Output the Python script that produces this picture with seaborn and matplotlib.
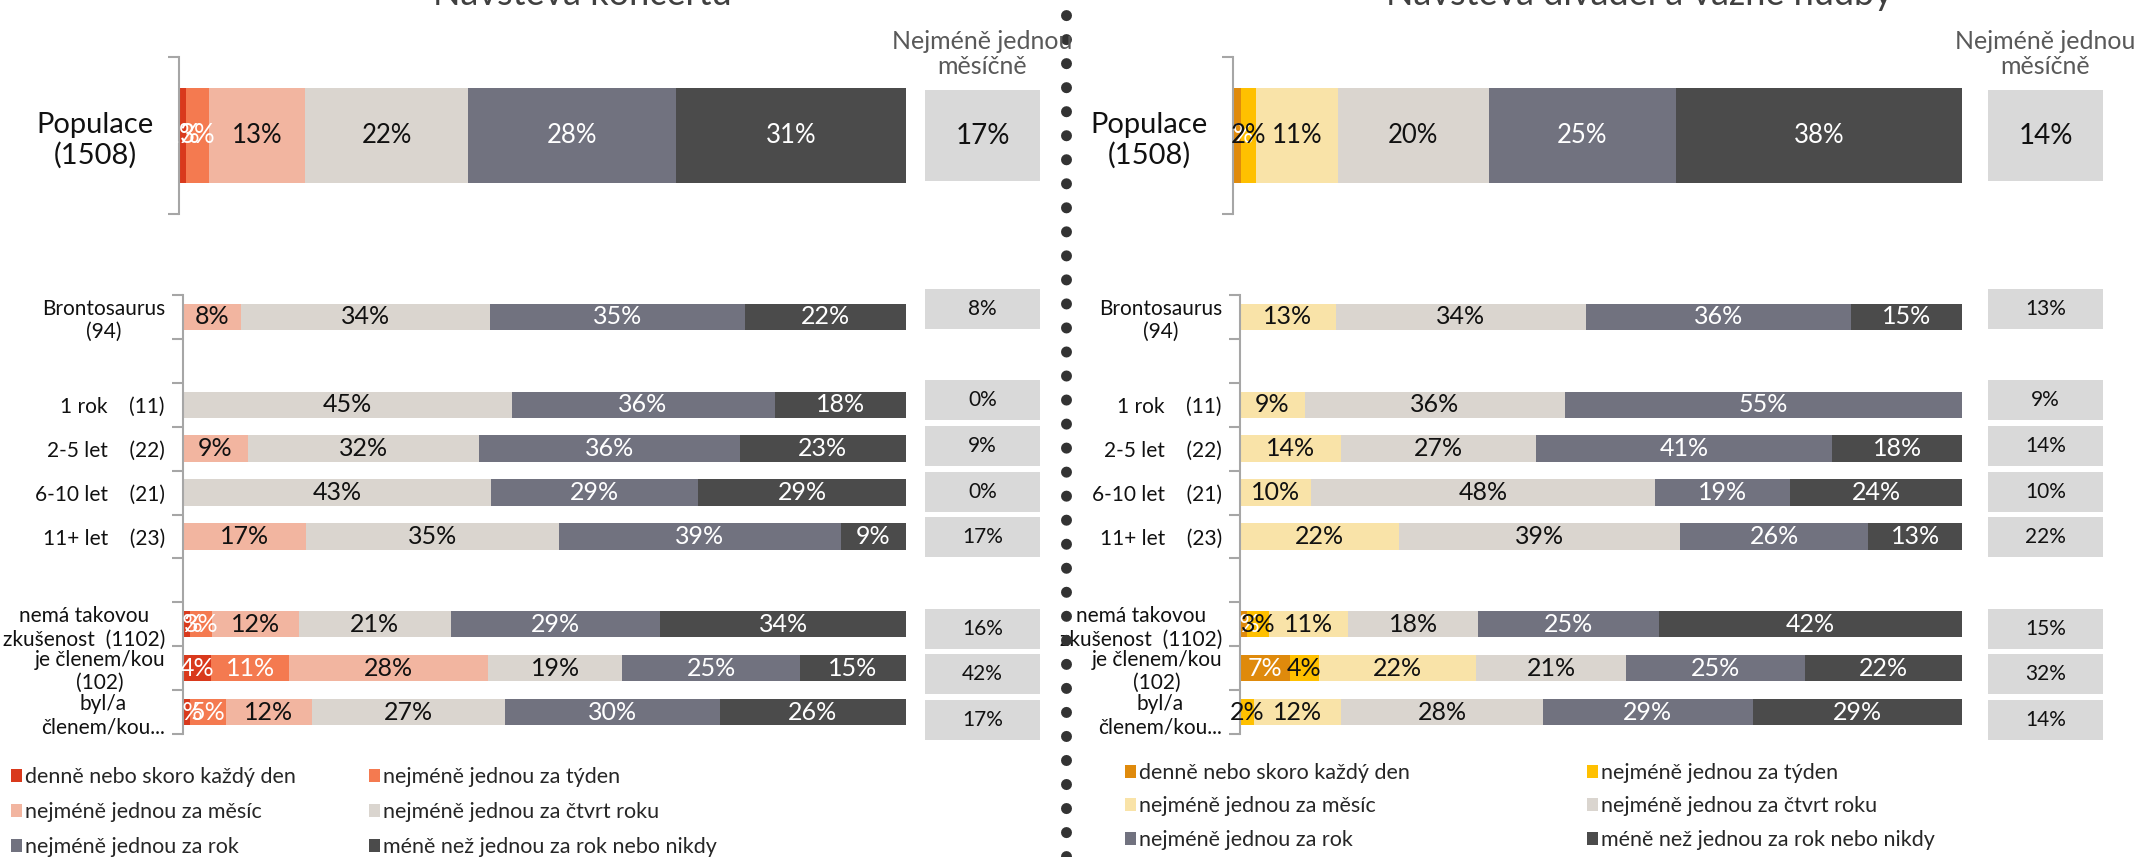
import numpy as np
import pandas as pd
import matplotlib.pyplot as plt
import seaborn as sns
from matplotlib.patches import Patch

sns.set_style("white")
plt.rcParams['font.family'] = ['Lato', 'DejaVu Sans']

W, H = 2136, 857

levels = ['denně nebo skoro každý den', 'nejméně jednou za týden',
          'nejméně jednou za měsíc', 'nejméně jednou za čtvrt roku',
          'nejméně jednou za rok', 'méně než jednou za rok nebo nikdy']

pop_label = 'Populace\n(1508)'
groups = ['Brontosaurus\n(94)', '1 rok    (11)', '2-5 let    (22)', '6-10 let    (21)',
          '11+ let    (23)', 'nemá takovou\nzkušenost  (1102)', 'je členem/kou\n(102)',
          'byl/a\nčlenem/kou...']
# empty names make the gaps between the blocks of rows
order = [groups[0], ' ', groups[1], groups[2], groups[3], groups[4], '  ',
         groups[5], groups[6], groups[7]]

# Návštěva koncertů
konc_pop = [1, 3, 13, 22, 28, 31]
konc_pop_mes = 17
konc = [[0, 0, 8, 34, 35, 22],
        [0, 0, 0, 45, 36, 18],
        [0, 0, 9, 32, 36, 23],
        [0, 0, 0, 43, 29, 29],
        [0, 0, 17, 35, 39, 9],
        [1, 3, 12, 21, 29, 34],
        [4, 11, 28, 19, 25, 15],
        [1, 5, 12, 27, 30, 26]]
konc_mes = [8, 0, 9, 0, 17, 16, 42, 17]

# Návštěva divadel a vážné hudby
div_pop = [1, 2, 11, 20, 25, 38]
div_pop_mes = 14
div = [[0, 0, 13, 34, 36, 15],
       [0, 0, 9, 36, 55, 0],
       [0, 0, 14, 27, 41, 18],
       [0, 0, 10, 48, 19, 24],
       [0, 0, 22, 39, 26, 13],
       [1, 3, 11, 18, 25, 42],
       [7, 4, 22, 21, 25, 22],
       [0, 2, 12, 28, 29, 29]]
div_mes = [13, 9, 14, 10, 22, 15, 32, 14]

konc_colors = ['#D9391C', '#F47A50', '#F2B5A0', '#DAD5CF', '#71727F', '#4B4B4B']
div_colors = ['#DF8A0C', '#FFC000', '#F9E3A8', '#DAD5CF', '#71727F', '#4B4B4B']
konc_txt = ['white', 'white', '#111111', '#111111', 'white', 'white']
div_txt = ['white', '#111111', '#111111', '#111111', 'white', 'white']


def rect(l, t, r, b):
    return [l / W, 1 - b / H, (r - l) / W, (b - t) / H]


def long_frame(names, values):
    recs = []
    for name, vals in zip(names, values):
        share = np.array(vals) / sum(vals) * 100
        end = np.cumsum(share)
        for lvl, v, s, e in zip(levels, vals, share, end):
            recs.append(dict(row=name, level=lvl, value=v, share=s, end=e))
    return pd.DataFrame(recs)


def stacked(ax, df, order, colors, txt, fs):
    # draw from the last cumulative end backwards so earlier levels sit on top
    for i in reversed(range(len(levels))):
        sns.barplot(data=df[df['level'] == levels[i]], x='end', y='row', order=order,
                    orient='h', color=colors[i], width=0.6, saturation=1,
                    errorbar=None, linewidth=0, ax=ax)
    for _, r in df[df['value'] > 0].iterrows():
        ax.text(r['end'] - r['share'] / 2, order.index(r['row']), f"{r['value']}%",
                ha='center', va='center', fontsize=fs,
                color=txt[levels.index(r['level'])])


def style_axis(ax, order, fs, pad):
    ax.set_xlim(0, 100)
    ax.set_ylim(len(order) - 0.5, -0.5)
    ax.set_xlabel('')
    ax.set_ylabel('')
    ax.set_xticks([])
    for s in ['top', 'right', 'bottom']:
        ax.spines[s].set_visible(False)
    ax.spines['left'].set_color('#A6A6A6')
    ax.spines['left'].set_linewidth(1.5)
    ax.set_yticks(np.arange(len(order) + 1) - 0.5, minor=True)
    ax.tick_params(axis='y', which='minor', left=True, length=8, width=1.5,
                   color='#A6A6A6')
    idx = [i for i, n in enumerate(order) if n.strip()]
    ax.set_yticks(idx, [order[i] for i in idx])
    ax.tick_params(axis='y', which='major', left=False, length=0, pad=pad,
                   labelsize=fs, labelcolor='#111111')
    for t in ax.get_yticklabels():
        t.set_multialignment('center')


def boxes(ax, names, order, vals, fs, width):
    bdf = pd.DataFrame({'row': names, 'mes': vals, 'full': 1})
    sns.barplot(data=bdf, x='full', y='row', order=order, orient='h', color='#D9D9D9',
                width=width, saturation=1, errorbar=None, linewidth=0, ax=ax)
    for _, r in bdf.iterrows():
        ax.text(0.5, order.index(r['row']), f"{r['mes']}%", ha='center', va='center',
                fontsize=fs, color='#111111')
    ax.set_xlim(0, 1)
    ax.set_ylim(len(order) - 0.5, -0.5)
    ax.axis('off')


def panel(fig, x0, x0b, x1, bx, pop, pop_mes, rows, mes, colors, txt, title, tx):
    ax_pop = fig.add_axes(rect(x0, 57, x1, 214))
    stacked(ax_pop, long_frame([pop_label], [pop]), [pop_label], colors, txt, 18.5)
    style_axis(ax_pop, [pop_label], 21, 18)

    ax = fig.add_axes(rect(x0b, 295, x1, 734))
    stacked(ax, long_frame(groups, rows), order, colors, txt, 18)
    style_axis(ax, order, 15, 13)

    axb_pop = fig.add_axes(rect(bx, 57, bx + 115, 214))
    boxes(axb_pop, [pop_label], [pop_label], [pop_mes], 20, 0.58)
    axb = fig.add_axes(rect(bx, 286, bx + 115, 743))
    boxes(axb, groups, order, mes, 15, 0.875)

    fig.text((bx + 57) / W, 1 - 54 / H, 'Nejméně jednou\nměsíčně', ha='center',
             va='center', fontsize=18, color='#595959', linespacing=1.15)
    fig.text(tx / W, 1 - 5 / H, title, ha='center', va='baseline', fontsize=26,
             color='#404040')


def legend(fig, colors, xs, top, spacing):
    for col, x in zip([[0, 2, 4], [1, 3, 5]], xs):
        fig.legend(handles=[Patch(facecolor=colors[i], edgecolor='none') for i in col],
                   labels=[levels[i] for i in col], loc='upper left',
                   bbox_to_anchor=(x / W, 1 - top / H), frameon=False, fontsize=15.5,
                   handlelength=0.5, handleheight=0.55, handletextpad=0.16,
                   labelspacing=spacing, borderpad=0, borderaxespad=0,
                   labelcolor='#262626')


fig = plt.figure(figsize=(W / 100, H / 100), dpi=100)

panel(fig, 179, 183, 906, 925, konc_pop, konc_pop_mes, konc, konc_mes,
      konc_colors, konc_txt, 'Návštěva koncertů', 582)
panel(fig, 1233, 1240, 1962, 1988, div_pop, div_pop_mes, div, div_mes,
      div_colors, div_txt, 'Návštěva divadel a vážné hudby', 1639)

legend(fig, konc_colors, [11, 369], 767, 0.7)
legend(fig, div_colors, [1125, 1587], 763, 0.62)

# dotted separator between the two charts
sep = fig.add_axes([0, 0, 1, 1])
sep.set_xlim(0, W)
sep.set_ylim(H, 0)
sep.axis('off')
sep.plot([1066, 1066], [0, H], color='#333333', linewidth=7.9,
         linestyle=(0.82, (0.01, 2.18)), dash_capstyle='round')

fig.savefig('out.png', dpi=100)
